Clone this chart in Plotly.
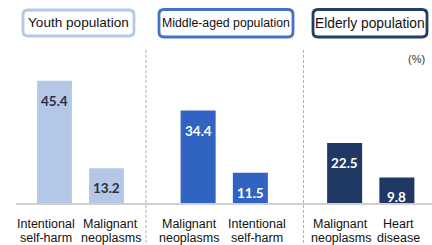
import plotly.graph_objects as go

# ---- data ----
groups = ["Youth population", "Middle-aged population", "Elderly population"]
youth_cats = ["Intentional<br>self-harm", "Malignant<br>neoplasms"]
youth_vals = [45.4, 13.2]
middle_cats = ["Malignant<br>neoplasms", "Intentional<br>self-harm"]
middle_vals = [34.4, 11.5]
elderly_cats = ["Malignant<br>neoplasms", "Heart<br>disease"]
elderly_vals = [22.5, 9.8]
unit_label = "(%)"

# ---- style ----
W, H = 432, 245
ML, MR, MT, MB = 0, 0, 41, 41
PH = H - MT - MB
bar_colors = ["#b4c7e7", "#3063c2", "#203864"]
border_colors = ["#b4c7e7", "#4472c4", "#1f3f6a"]
label_colors = ["#2b3040", "#ffffff", "#ffffff"]
domains = [[28.5 / W, 132.5 / W], [172 / W, 276.5 / W], [318.5 / W, 423 / W]]
label_xshift = [[-9, 4], [-9, 7], [-4, 2]]
line_yshift = [-20, -34]


def px(x):
    return x / W


def py(y):
    return (H - MB - y) / PH


fig = go.Figure()
axes = ["x", "x2", "x3"]
sets = [(youth_cats, youth_vals), (middle_cats, middle_vals), (elderly_cats, elderly_vals)]
annotations = []
for i, (cats, vals) in enumerate(sets):
    fig.add_trace(go.Bar(
        x=cats, y=vals, xaxis=axes[i], yaxis="y",
        marker=dict(color=bar_colors[i], line=dict(width=0)),
        width=0.67, showlegend=False, hoverinfo="skip",
    ))
    for j, (c, v) in enumerate(zip(cats, vals)):
        annotations.append(dict(
            x=c, y=v, xref=axes[i], yref="y", text=f"<b>{v}</b>",
            showarrow=False, yshift=-20,
            font=dict(family="Lato", size=13.5, color=label_colors[i]),
        ))
        # category label, one annotation per line
        for k, line in enumerate(c.split("<br>")):
            annotations.append(dict(
                x=c, y=0, xref=axes[i], yref="y", text=line,
                showarrow=False, xanchor="center", yanchor="middle",
                xshift=label_xshift[i][j], yshift=line_yshift[k],
                font=dict(family="Liberation Sans", size=12.5, color="#111111"),
            ))

xaxis_common = dict(
    type="category", range=[-0.5, 1.5], showgrid=False, zeroline=False,
    showline=False, ticks="", showticklabels=False, anchor="y", fixedrange=True,
    automargin=False,
)
layout_axes = {}
for i, name in enumerate(["xaxis", "xaxis2", "xaxis3"]):
    layout_axes[name] = dict(xaxis_common, domain=domains[i])

shapes = []
# baseline
shapes.append(dict(type="line", xref="paper", yref="paper",
                   x0=px(16), x1=px(432), y0=0, y1=0,
                   line=dict(color="#cfcfcf", width=2)))
# dividers
for xd in [146, 303.5]:
    shapes.append(dict(type="line", xref="paper", yref="paper",
                       x0=px(xd), x1=px(xd), y0=py(50), y1=py(245),
                       line=dict(color="#b0b0b0", width=1, dash="3px,2px")))

# header boxes (rounded rectangles)
boxes = [(23, 134, 10, 36), (159, 293, 9.5, 37), (313, 427, 9.5, 37)]
box_font = [13.6, 12.3, 13.8]


def rrect(x0, x1, y0, y1, r=5):
    pts = [
        f"M {px(x0 + r)} {py(y0)}",
        f"L {px(x1 - r)} {py(y0)}",
        f"Q {px(x1)} {py(y0)} {px(x1)} {py(y0 + r)}",
        f"L {px(x1)} {py(y1 - r)}",
        f"Q {px(x1)} {py(y1)} {px(x1 - r)} {py(y1)}",
        f"L {px(x0 + r)} {py(y1)}",
        f"Q {px(x0)} {py(y1)} {px(x0)} {py(y1 - r)}",
        f"L {px(x0)} {py(y0 + r)}",
        f"Q {px(x0)} {py(y0)} {px(x0 + r)} {py(y0)}",
        "Z",
    ]
    return " ".join(pts)


for i, (x0, x1, y0, y1) in enumerate(boxes):
    shapes.append(dict(type="path", xref="paper", yref="paper",
                       path=rrect(x0, x1, y0, y1),
                       line=dict(color=border_colors[i], width=2.8),
                       fillcolor="white"))
    annotations.append(dict(
        x=px((x0 + x1) / 2), y=py((y0 + y1) / 2), xref="paper", yref="paper",
        text=groups[i], showarrow=False, xanchor="center", yanchor="middle",
        font=dict(family="Liberation Sans", size=box_font[i], color="#111111"),
    ))

annotations.append(dict(
    x=px(416), y=py(59), xref="paper", yref="paper", text=unit_label,
    showarrow=False, xanchor="center", yanchor="middle",
    font=dict(family="Liberation Sans", size=11, color="#333333"),
))

fig.update_layout(
    width=W, height=H,
    margin=dict(l=ML, r=MR, t=MT, b=MB),
    paper_bgcolor="white", plot_bgcolor="white",
    yaxis=dict(range=[0, 60], visible=False, fixedrange=True),
    shapes=shapes, annotations=annotations,
    **layout_axes,
)

fig.write_html("out.html", config={"displayModeBar": False},
               post_script="document.body.style.margin='0';document.body.style.overflow='hidden';")
